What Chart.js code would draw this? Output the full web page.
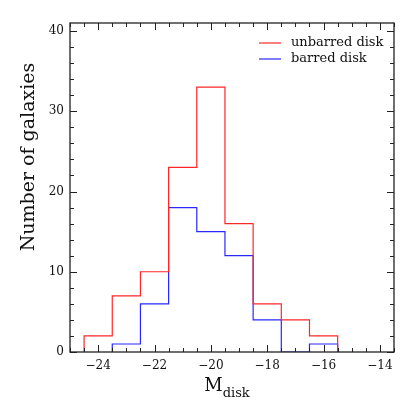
<!DOCTYPE html>
<html>
<head>
<meta charset="utf-8">
<script src="https://cdn.jsdelivr.net/npm/chart.js@4"></script>
<style>
  html, body { margin: 0; padding: 0; background: #fff; }
</style>
</head>
<body>
<canvas id="histChart" width="409" height="409"></canvas>
<script>
// Datos del histograma (centros de bin, ancho 1 mag)
const binCenters = [-24, -23, -22, -21, -20, -19, -18, -17, -16];
const unbarred = [2, 7, 10, 23, 33, 16, 6, 4, 2];
const barred = [0, 1, 6, 18, 15, 12, 4, 0, 1];
const xTicks = [-24, -22, -20, -18, -16, -14];
const yTicks = [0, 10, 20, 30, 40];
const seriesNames = ['unbarred disk', 'barred disk'];
const seriesColors = ['rgb(255,40,40)', 'rgb(40,40,255)'];

const FONT = 'DejaVu Serif';

// Convertir valores a contorno escalonado
function stepOutline(vals) {
    const first = vals.findIndex(v => v > 0);
    let last = vals.length - 1;
    while (vals[last] === 0) last--;
    const pts = [{ x: binCenters[first] - 0.5, y: 0 }];
    for (let i = first; i <= last; i++) {
        pts.push({ x: binCenters[i] - 0.5, y: vals[i] });
    }
    pts.push({ x: binCenters[last] + 0.5, y: 0 });
    return pts;
}

// Marco, ticks internos, leyenda y títulos
const framePlugin = {
    id: 'frame',
    afterDatasetsDraw(chart) {
        const ctx = chart.ctx;
        const a = chart.chartArea;
        const xs = chart.scales.x, ys = chart.scales.y;
        ctx.save();
        ctx.strokeStyle = '#222';
        ctx.lineWidth = 1;
        ctx.beginPath();
        // ticks en x
        for (let v = -25; v <= -13.5 + 1e-9; v += 0.5) {
            const px = Math.round(xs.getPixelForValue(v)) + 0.5;
            const len = (Math.abs(v % 2) < 1e-9) ? 7 : 4;
            ctx.moveTo(px, a.bottom); ctx.lineTo(px, a.bottom - len);
            ctx.moveTo(px, a.top); ctx.lineTo(px, a.top + len);
        }
        // ticks en y
        for (let v = 0; v <= 41; v += 2) {
            const py = Math.round(ys.getPixelForValue(v)) + 0.5;
            const len = (v % 10 === 0) ? 7 : 4;
            ctx.moveTo(a.left, py); ctx.lineTo(a.left + len, py);
            ctx.moveTo(a.right, py); ctx.lineTo(a.right - len, py);
        }
        ctx.stroke();
        ctx.lineWidth = 1.3;
        ctx.strokeRect(a.left, a.top, a.right - a.left, a.bottom - a.top);

        // leyenda
        ctx.font = '13px "' + FONT + '"';
        ctx.textBaseline = 'middle';
        ctx.textAlign = 'left';
        seriesNames.forEach((name, i) => {
            const y = 43 + i * 16;
            ctx.strokeStyle = seriesColors[i];
            ctx.lineWidth = 1.2;
            ctx.beginPath();
            ctx.moveTo(259, y); ctx.lineTo(281, y);
            ctx.stroke();
            ctx.fillStyle = '#111';
            ctx.fillText(name, 291, y);
        });

        // título eje y
        ctx.fillStyle = '#111';
        ctx.save();
        ctx.translate(29, 157);
        ctx.rotate(-Math.PI / 2);
        ctx.textAlign = 'center';
        ctx.textBaseline = 'middle';
        ctx.font = '19px "' + FONT + '"';
        ctx.fillText('Number of galaxies', 0, 0);
        ctx.restore();

        // título eje x: M_disk
        ctx.textAlign = 'left';
        ctx.textBaseline = 'alphabetic';
        ctx.font = '18px "' + FONT + '"';
        const mW = ctx.measureText('M').width;
        ctx.font = '13px "' + FONT + '"';
        const dW = ctx.measureText('disk').width;
        const x0 = 227 - (mW + dW) / 2;
        ctx.font = '18px "' + FONT + '"';
        ctx.fillText('M', x0, 391);
        ctx.font = '13px "' + FONT + '"';
        ctx.fillText('disk', x0 + mW, 397);
        ctx.restore();
    }
};

const histChart = new Chart(document.getElementById('histChart'), {
    type: 'line',
    data: {
        datasets: [
            {
                label: seriesNames[0],
                data: stepOutline(unbarred),
                borderColor: seriesColors[0],
                borderWidth: 1.2,
                stepped: 'before',
                pointRadius: 0,
                fill: false
            },
            {
                label: seriesNames[1],
                data: stepOutline(barred),
                borderColor: seriesColors[1],
                borderWidth: 1.2,
                stepped: 'before',
                pointRadius: 0,
                fill: false
            }
        ]
    },
    options: {
        responsive: false,
        animation: false,
        layout: { padding: { top: 23, right: 15, left: 0, bottom: 0 } },
        plugins: {
            legend: { display: false },
            tooltip: { enabled: false }
        },
        scales: {
            x: {
                type: 'linear',
                min: -25,
                max: -13.5,
                grid: { display: false, drawTicks: false },
                border: { display: false },
                afterBuildTicks: s => { s.ticks = xTicks.map(v => ({ value: v })); },
                afterFit: s => { s.height = 57; },
                ticks: {
                    font: { family: FONT, size: 12 },
                    color: '#111',
                    padding: 7,
                    maxRotation: 0,
                    callback: v => String(v).replace('-', '\u2212')
                }
            },
            y: {
                type: 'linear',
                min: 0,
                max: 41,
                grid: { display: false, drawTicks: false },
                border: { display: false },
                afterBuildTicks: s => { s.ticks = yTicks.map(v => ({ value: v })); },
                afterFit: s => { s.width = 70; },
                ticks: {
                    font: { family: FONT, size: 12 },
                    color: '#111',
                    padding: 6
                }
            }
        }
    },
    plugins: [framePlugin]
});
</script>
</body>
</html>
